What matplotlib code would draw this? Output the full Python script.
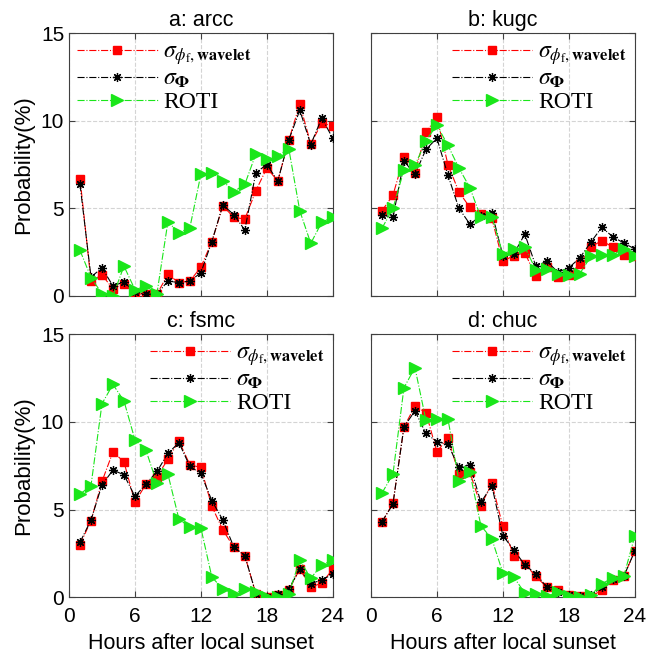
import numpy as np
import matplotlib
matplotlib.use("Agg")
import matplotlib.pyplot as plt

plt.rcParams["font.family"] = "Liberation Sans"
plt.rcParams["mathtext.fontset"] = "stix"

hours = np.arange(1, 25)

# a: arcc
arcc_wav = [6.7, 0.85, 1.2, 0.4, 0.7, 0.13, 0.1, 0.1, 1.23, 0.76, 0.85, 1.64, 3.1, 5.14, 4.48, 4.39,
            6.0, 7.3, 6.56, 8.88, 10.95, 8.68, 9.87, 9.7]
arcc_phi = [6.37, 1.08, 1.6, 0.57, 0.8, 0.2, 0.1, 0.1, 0.85, 0.76, 0.85, 1.32, 3.1, 5.2, 4.63, 3.76,
            7.03, 7.5, 6.56, 8.9, 10.6, 8.64, 10.15, 9.0]
arcc_roti = [2.6, 1.05, 0.13, 0.0, 1.7, 0.36, 0.55, 0.13, 4.23, 3.6, 3.9, 6.94, 7.03, 6.56, 5.95, 6.37,
             8.1, 7.8, 8.0, 8.4, 4.86, 3.0, 4.2, 4.5]

# b: kugc
kugc_wav = [4.86, 5.75, 7.92, 7.03, 9.34, 10.2, 7.5, 5.94, 5.05, 4.7, 4.42, 1.98, 2.3, 2.46, 1.12, 1.64,
            1.08, 1.17, 1.83, 2.78, 3.16, 2.78, 2.34, 2.3]
kugc_phi = [4.63, 4.48, 7.7, 6.94, 8.36, 9.0, 6.9, 5.0, 4.1, 4.57, 4.76, 2.3, 2.4, 3.53, 1.7, 1.98,
            1.36, 1.6, 2.17, 3.06, 3.91, 3.38, 3.02, 2.68]
kugc_roti = [3.86, 5.0, 7.18, 7.45, 8.87, 9.74, 8.6, 7.3, 6.18, 4.48, 4.52, 2.4, 2.65, 2.78, 1.5, 1.55,
             1.23, 1.17, 1.27, 2.25, 2.36, 2.36, 2.68, 2.3]

# c: fsmc
fsmc_wav = [3.0, 4.36, 6.6, 8.29, 7.72, 5.41, 6.45, 6.87, 7.87, 8.92, 7.55, 7.4, 5.18, 3.83, 2.85, 2.37,
            0.2, 0.0, 0.1, 0.4, 1.6, 0.57, 0.8, 1.6]
fsmc_phi = [3.13, 4.4, 6.41, 7.25, 6.98, 5.75, 6.45, 7.17, 8.2, 8.82, 7.46, 7.06, 5.5, 4.4, 2.85, 2.37,
            0.2, 0.0, 0.15, 0.47, 1.6, 0.76, 0.99, 1.3]
fsmc_roti = [5.88, 6.36, 11.04, 12.14, 11.2, 8.98, 8.39, 6.49, 7.02, 4.46, 3.98, 3.95, 1.14, 0.47, 0.19, 0.47,
             0.28, 0.0, 0.0, 0.19, 2.12, 1.08, 1.84, 2.1]

# d: chuc
chuc_wav = [4.3, 5.35, 9.71, 10.9, 10.53, 8.29, 9.1, 7.02, 7.12, 5.22, 6.49, 4.04, 2.37, 1.9, 1.18, 0.57,
            0.42, 0.1, 0.04, 0.0, 0.42, 0.95, 1.18, 2.62]
chuc_phi = [4.3, 5.31, 9.71, 10.63, 9.34, 8.88, 8.73, 7.4, 7.55, 5.41, 6.36, 3.51, 2.69, 1.84, 1.33, 0.57,
            0.28, 0.1, 0.04, 0.1, 0.57, 1.04, 1.18, 2.62]
chuc_roti = [5.94, 7.02, 11.95, 13.1, 10.1, 10.19, 10.19, 6.64, 7.12, 4.08, 3.32, 1.39, 1.14, 0.23, 0.15, 0.04,
             0.28, 0.04, 0.0, 0.1, 0.76, 1.1, 1.18, 3.47]

panels = [
    ("a: arcc", arcc_wav, arcc_phi, arcc_roti, "upper left"),
    ("b: kugc", kugc_wav, kugc_phi, kugc_roti, "upper right"),
    ("c: fsmc", fsmc_wav, fsmc_phi, fsmc_roti, "upper right"),
    ("d: chuc", chuc_wav, chuc_phi, chuc_roti, "upper right"),
]

lbl_wav = r"$\sigma_{\phi_{\mathrm{f}},\mathbf{wavelet}}$"
lbl_phi = r"$\sigma_{\mathbf{\Phi}}$"
lbl_roti = "ROTI"

fig = plt.figure(figsize=(6.48, 6.62), dpi=100)
positions = [
    [0.1065, 0.553, 0.407, 0.397],
    [0.5725, 0.553, 0.407, 0.397],
    [0.1065, 0.098, 0.407, 0.397],
    [0.5725, 0.098, 0.407, 0.397],
]
green = (0.1, 0.9, 0.1)

for i, (title, wav, phi, roti, loc) in enumerate(panels):
    ax = fig.add_axes(positions[i])
    ax.plot(hours, wav, "-.", color="red", lw=0.8, marker="s", ms=5.5, mfc="red", mec="red",
            label=lbl_wav, zorder=3)
    ax.plot(hours, phi, "-.", color="black", lw=0.8, marker=(8, 2, 0), ms=6.5, mec="black", mew=0.9,
            label=lbl_phi, zorder=4)
    ax.plot(hours, roti, "-.", color=green, lw=0.8, marker=">", ms=8, mfc=green, mec=green,
            label=lbl_roti, zorder=5)
    ax.set_xlim(0, 24)
    ax.set_ylim(0, 15)
    ax.set_xticks([0, 6, 12, 18, 24])
    ax.set_yticks([0, 5, 10, 15])
    ax.grid(True, linestyle="--", color="#d4d4d4", lw=0.8)
    ax.set_axisbelow(True)
    ax.tick_params(direction="in", labelsize=15, length=4, color="#404040", top=True, right=True)
    ax.tick_params(axis="x", pad=7)
    for s in ax.spines.values():
        s.set_color("#404040")
        s.set_linewidth(0.8)
    ax.set_title(title, fontsize=15.5, pad=5)
    if i < 2:
        ax.set_xticklabels([])
    else:
        ax.set_xlabel("Hours after local sunset", fontsize=15.5, labelpad=5)
    if i % 2 == 1:
        ax.set_yticklabels([])
    else:
        ax.set_ylabel("Probability(%)", fontsize=16, labelpad=5)
    ax.legend(loc=loc, frameon=False, handlelength=3.4,
              prop={"family": "Liberation Serif", "size": 17},
              borderaxespad=0.1, borderpad=0.25, labelspacing=0.05, handletextpad=0.25)

fig.savefig("out.png", dpi=100)
